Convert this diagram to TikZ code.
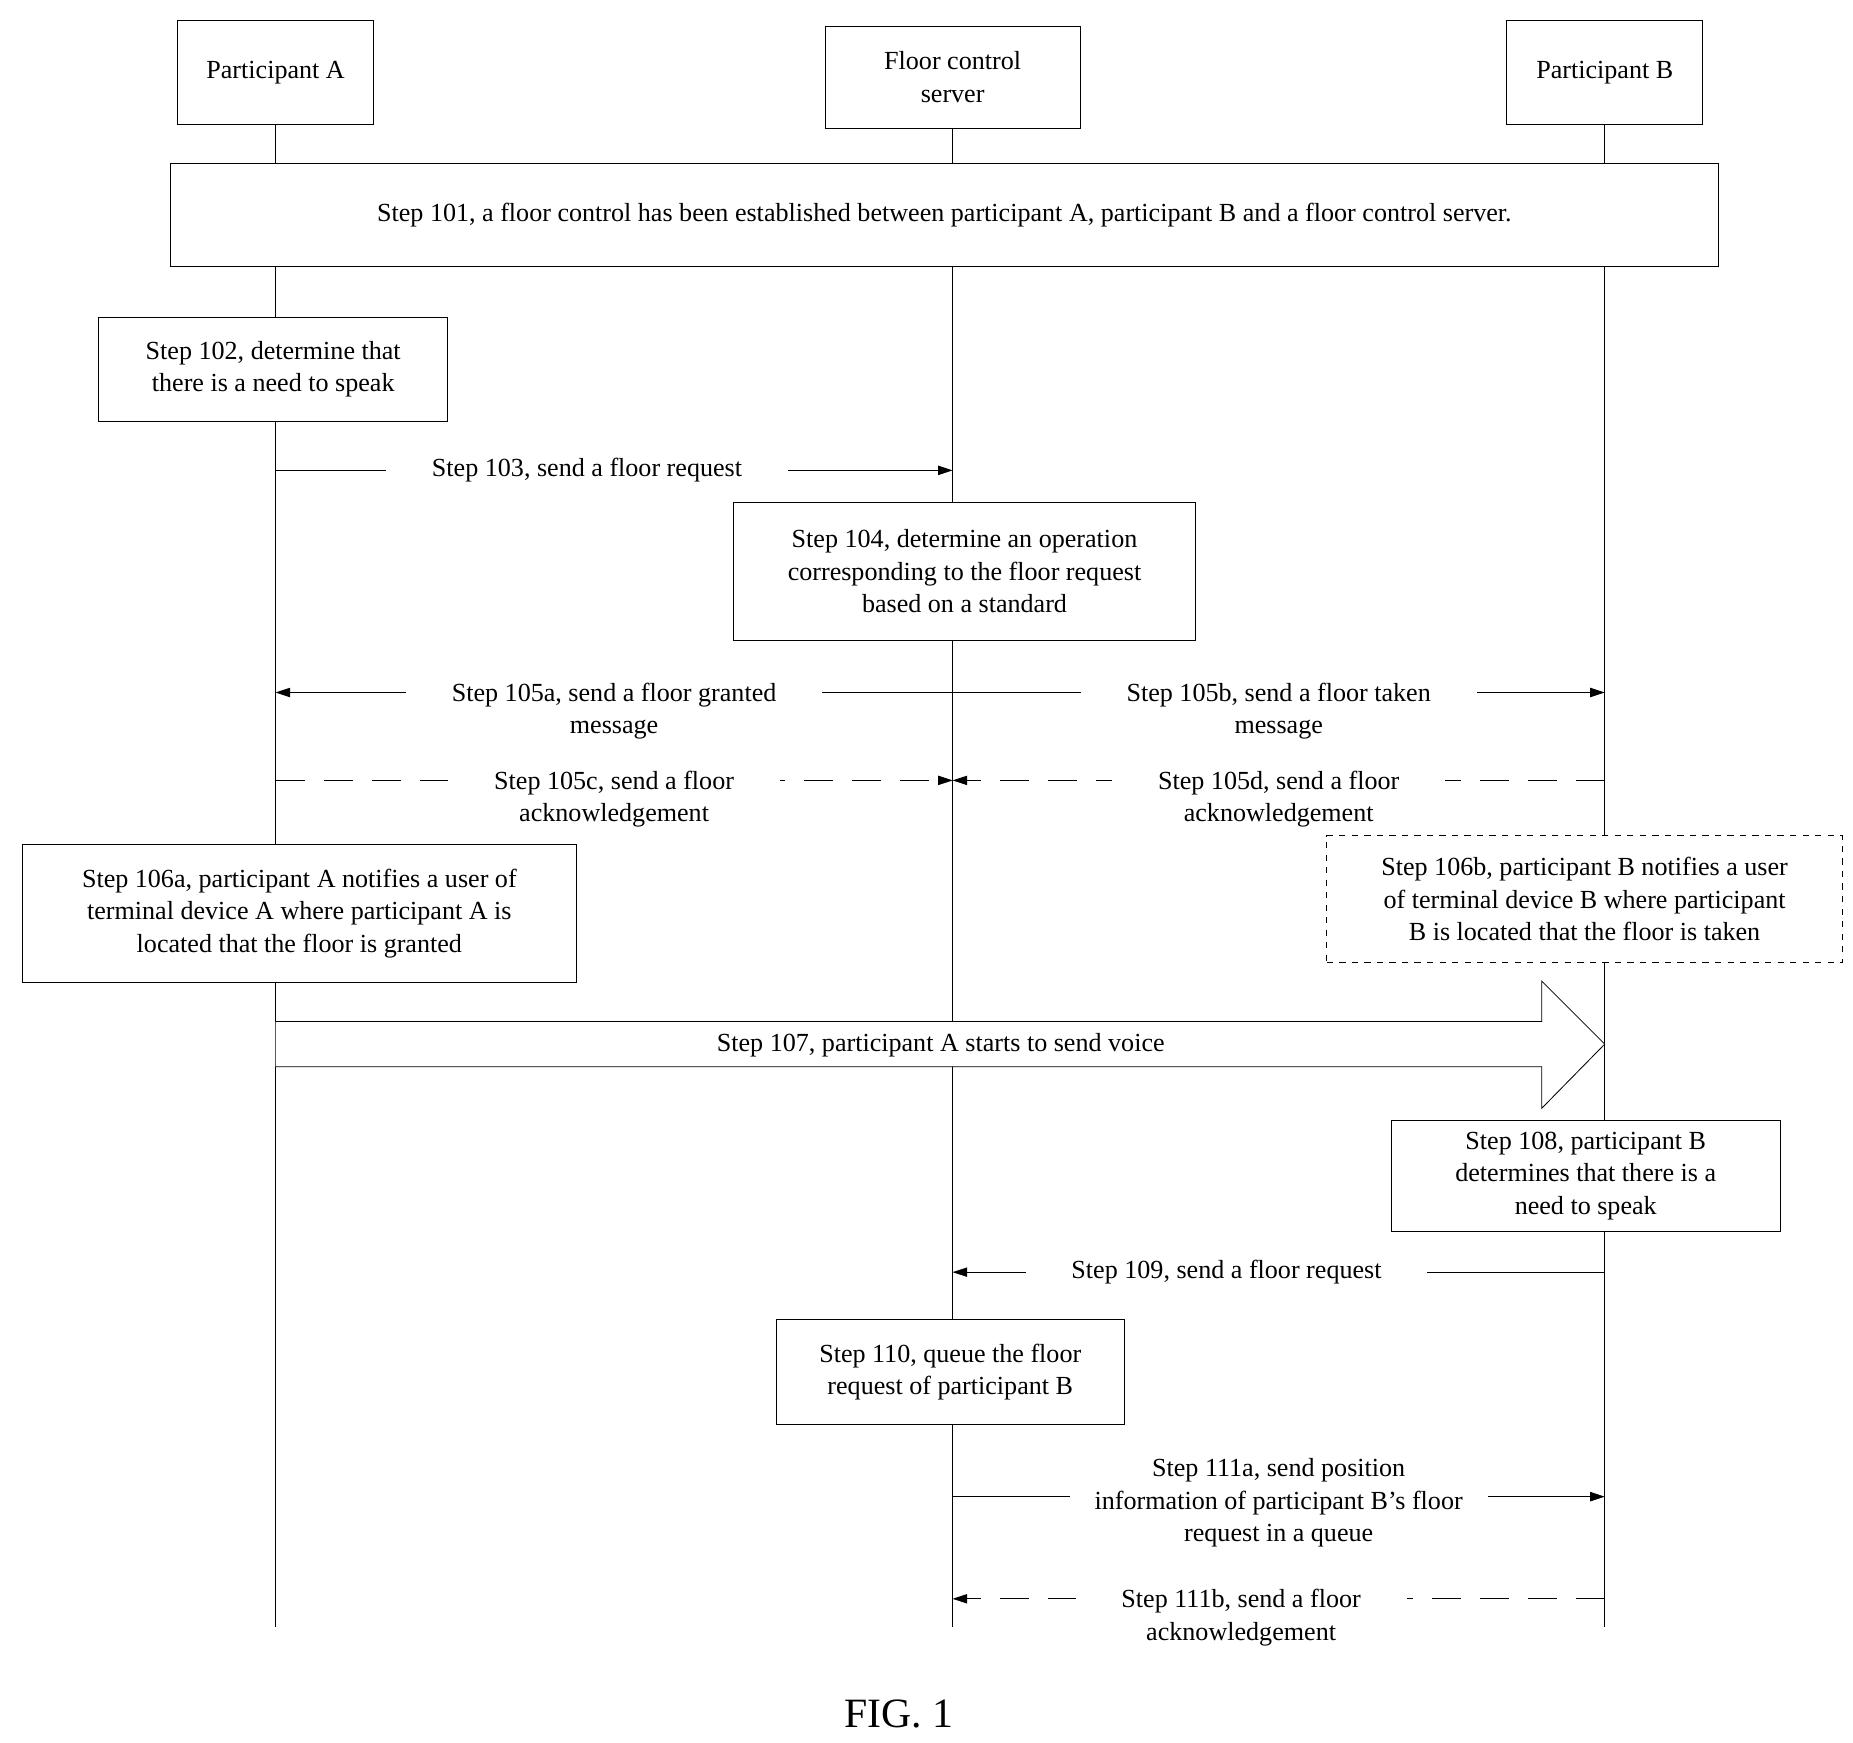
\documentclass[tikz,border=0pt]{standalone}
\usepackage{fontspec}
\setmainfont{Liberation Serif}
\usetikzlibrary{arrows.meta}

\begin{document}
\begin{tikzpicture}[
        x=0.02cm, y=-0.02cm,
        every node/.style={font=\fontsize{12.5}{15.5}\selectfont},
        box/.style={draw, rectangle, fill=white, align=center, inner sep=0pt},
        msg/.style={-{Triangle[length=7pt,width=4.5pt]}, thin},
        ack/.style={msg, dash pattern=on 14pt off 9pt},
        lbl/.style={fill=white, align=center, inner xsep=22pt, inner ysep=1pt}
    ]
    \useasboundingbox (0,0) rectangle (1560,1467);

    % participants
    \node[box, minimum width=165*0.02cm, minimum height=87*0.02cm] (partA) at (232,61) {Participant A};
    \node[box, minimum width=215*0.02cm, minimum height=86*0.02cm] (server) at (802,65) {Floor control\\server};
    \node[box, minimum width=165*0.02cm, minimum height=87*0.02cm] (partB) at (1351,61) {Participant B};

    \path (0,1370) coordinate (bottom);
    \draw (partA.south) -- (partA.south |- bottom);
    \draw (server.south) -- (server.south |- bottom);
    \draw (partB.south) -- (partB.south |- bottom);

    % steps
    \node[box, minimum width=1303*0.02cm, minimum height=87*0.02cm] (s101) at (795,181) {Step 101, a floor control has been established between participant A, participant B and a floor control server.};
    \node[box, minimum width=294*0.02cm, minimum height=87*0.02cm] (s102) at (230,311) {Step 102, determine that\\there is a need to speak};

    \path (0,396) coordinate (y103);
    \draw[msg] (partA |- y103) -- node[lbl, pos=0.46] {Step 103, send a floor request} (server |- y103);

    \node[box, minimum width=389*0.02cm, minimum height=116*0.02cm] (s104) at (812,481) {Step 104, determine an operation\\corresponding to the floor request\\based on a standard};

    \path (0,583) coordinate (y105);
    \draw[msg] (server |- y105) -- node[lbl, yshift=-9pt] {Step 105a, send a floor granted\\message} (partA |- y105);
    \draw[msg] (server |- y105) -- node[lbl, yshift=-9pt] {Step 105b, send a floor taken\\message} (partB |- y105);

    \path (0,657) coordinate (y105c);
    \draw[ack] (partA |- y105c) -- node[lbl, yshift=-9pt] {Step 105c, send a floor\\acknowledgement} (server |- y105c);
    \draw[ack] (partB |- y105c) -- node[lbl, yshift=-9pt] {Step 105d, send a floor\\acknowledgement} (server |- y105c);

    \node[box, minimum width=467*0.02cm, minimum height=116*0.02cm] (s106a) at (252,769) {Step 106a, participant A notifies a user of\\terminal device A where participant A is\\located that the floor is granted};
    \node[box, dashed, minimum width=434*0.02cm, minimum height=107*0.02cm] (s106b) at (1334,757) {Step 106b, participant B notifies a user\\of terminal device B where participant\\B is located that the floor is taken};

    % big arrow
    \path (0,879) coordinate (y107);
    \draw[fill=white] (partA |- 0,860) -- (1298,860) -- (1298,826) -- (partB |- y107)
        -- (1298,933) -- (1298,898) -- (partA |- 0,898);
    \node (s107) at (792,880) {Step 107, participant A starts to send voice};

    \node[box, minimum width=328*0.02cm, minimum height=93*0.02cm] (s108) at (1335,990) {Step 108, participant B\\determines that there is a\\need to speak};

    \path (0,1071) coordinate (y109);
    \draw[msg] (partB |- y109) -- node[lbl, pos=0.58] {Step 109, send a floor request} (server |- y109);

    \node[box, minimum width=293*0.02cm, minimum height=88*0.02cm] (s110) at (800,1155) {Step 110, queue the floor\\request of participant B};

    \path (0,1260) coordinate (y111);
    \draw[msg] (server |- y111) -- node[lbl, inner xsep=12pt, yshift=-3pt] {Step 111a, send position\\information of participant B's floor\\request in a queue} (partB |- y111);

    \path (0,1346) coordinate (y111b);
    \draw[ack] (partB |- y111b) -- node[lbl, yshift=-9pt, xshift=-18pt] {Step 111b, send a floor\\acknowledgement} (server |- y111b);

    \node[font=\fontsize{20}{24}\selectfont] (fig) at (757,1443) {FIG. 1};
\end{tikzpicture}
\end{document}
